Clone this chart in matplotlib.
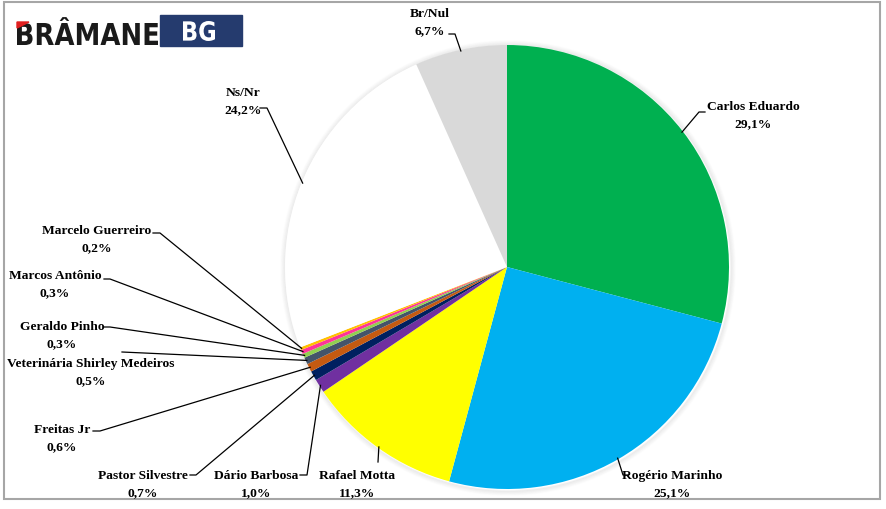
import matplotlib
matplotlib.use("Agg")
import matplotlib.pyplot as plt
import matplotlib.patches as mpatches
from matplotlib.textpath import TextPath
from matplotlib.font_manager import FontProperties
from matplotlib.transforms import Affine2D
import numpy as np

# ---- data ----
labels = ["Carlos Eduardo", "Rogério Marinho", "Rafael Motta", "Dário Barbosa",
          "Pastor Silvestre", "Freitas Jr", "Veterinária Shirley Medeiros",
          "Geraldo Pinho", "Marcos Antônio", "Marcelo Guerreiro", "Ns/Nr", "Br/Nul"]
values = [29.1, 25.1, 11.3, 1.0, 0.7, 0.6, 0.5, 0.3, 0.3, 0.2, 24.2, 6.7]
colors = ["#00B050", "#00B0F0", "#FFFF00", "#7030A0", "#002060", "#C55A11",
          "#44546A", "#92D050", "#FF3399", "#FFC000", "#FFFFFF", "#D9D9D9"]

W, H = 886, 510
fig = plt.figure(figsize=(W / 100, H / 100), dpi=100)
ax = fig.add_axes([0, 0, 1, 1])
ax.set_xlim(0, W)
ax.set_ylim(0, H)
ax.axis("off")

def Y(y):
    return H - y

cx, cy, R = 507, 268, 222

# border
ax.add_patch(mpatches.Rectangle((4, Y(500)), 876, 497, fill=False,
                                edgecolor="#A6A6A6", linewidth=1.5, zorder=0))

# soft shadow
for i, a in enumerate([0.10, 0.08, 0.06, 0.04, 0.02]):
    ax.add_patch(mpatches.Circle((cx + 1, Y(cy) - 1), R + 1 + i, facecolor="none",
                                 edgecolor="#808080", linewidth=1.2, alpha=a, zorder=1))

wedges, _ = ax.pie(values, colors=colors, startangle=90, counterclock=False,
                   center=(cx, Y(cy)), radius=R, frame=True,
                   wedgeprops=dict(linewidth=0, edgecolor="none"))
for w in wedges:
    w.set_zorder(2)
ax.set_xlim(0, W)
ax.set_ylim(0, H)
ax.axis("off")

# label layout: (text center x, line1 y, path points from text side to wedge)
layout = {
    "Carlos Eduardo": (753, 107, [(705, 113), (699, 113)]),
    "Rogério Marinho": (672, 476, [(628, 476), (623, 476)]),
    "Rafael Motta": (357, 476, [(378, 463)]),
    "Dário Barbosa": (256, 476, [(300, 476), (307, 476)]),
    "Pastor Silvestre": (143, 476, [(190, 476), (196, 476)]),
    "Freitas Jr": (62, 430, [(93, 432), (100, 432)]),
    "Veterinária Shirley Medeiros": (91, 364, [(122, 353)]),
    "Geraldo Pinho": (62, 327, [(104, 328), (110, 328)]),
    "Marcos Antônio": (55, 276, [(104, 280), (110, 280)]),
    "Marcelo Guerreiro": (97, 231, [(153, 234), (160, 234)]),
    "Ns/Nr": (243, 93, [(260, 109), (267, 109)]),
    "Br/Nul": (430, 14, [(449, 35), (455, 35)]),
}

font = dict(family="Liberation Serif", fontweight="bold", fontsize=9.7, color="#000000")
for w, lab, v in zip(wedges, labels, values):
    tx, ty, pts = layout[lab]
    ang = np.deg2rad((w.theta1 + w.theta2) / 2)
    ex = cx + R * 0.995 * np.cos(ang)
    ey = Y(cy) + R * 0.995 * np.sin(ang)
    xs = [p[0] for p in pts] + [ex]
    ys = [Y(p[1]) for p in pts] + [ey]
    ax.plot(xs, ys, color="black", linewidth=0.9, zorder=3)
    ax.text(tx, Y(ty), lab, ha="center", va="center", zorder=4, **font)
    ax.text(tx, Y(ty + 17), f"{v:.1f}%".replace(".", ","), ha="center",
            va="center", zorder=4, **font)

# logo: word mark scaled into its box
fp = FontProperties(family="DejaVu Sans", weight="bold")
ref = TextPath((0, 0), "BRAMANE", size=100, prop=fp)
ext = ref.get_extents()
word = TextPath((0, 0), "BRÂMANE", size=100, prop=fp)
x0, x1, base, cap = 17, 158, 46, 24
sx = (x1 - x0) / ext.width
sy = (base - cap) / ext.height
tr = Affine2D().translate(-ext.x0, -ext.y0).scale(sx, sy).translate(x0, Y(base))
ax.add_patch(mpatches.PathPatch(tr.transform_path(word), facecolor="#1a1a1a",
                                edgecolor="none", zorder=5))
ax.add_patch(mpatches.Polygon([(17, Y(23)), (29, Y(23)), (17, Y(29))],
                              closed=True, color="#E02020", zorder=6))
ax.add_patch(mpatches.Rectangle((160, Y(47)), 82, 31, color="#253B6E", zorder=5))
bg = TextPath((0, 0), "BG", size=100, prop=fp)
be = bg.get_extents()
tr2 = Affine2D().translate(-be.x0, -be.y0).scale(32 / be.width, 20 / be.height).translate(183, Y(42))
ax.add_patch(mpatches.PathPatch(tr2.transform_path(bg), facecolor="white",
                                edgecolor="none", zorder=6))

fig.savefig("out.png", dpi=100)
